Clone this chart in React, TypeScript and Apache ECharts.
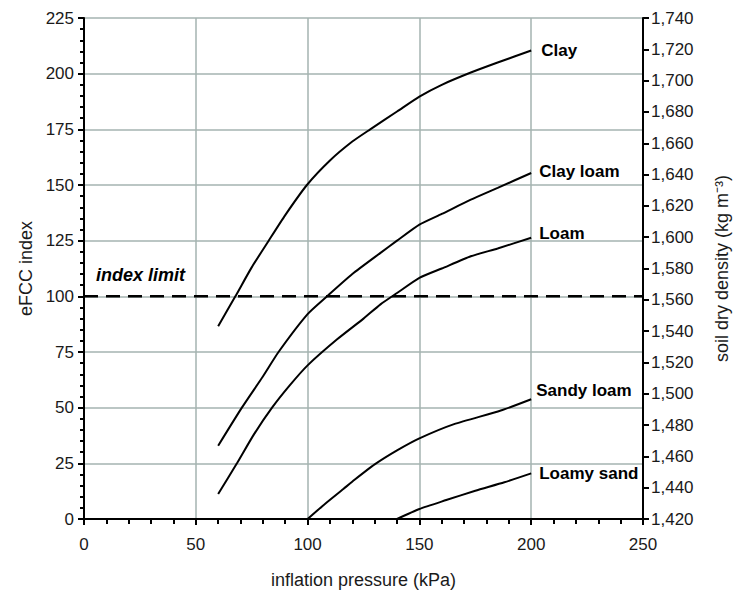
import React, { useEffect, useRef } from "react";
import * as echarts from "echarts";

// Inflation pressure (kPa) and eFCC index readings for each soil texture
const pressureClay = [60, 67.7, 75, 82.6, 90, 99.7, 110, 120, 128, 140, 150, 160, 173, 185, 200];
const efccClay = [86.6, 100, 113, 125, 136.5, 150, 161, 169.5, 175, 183, 189.7, 195, 200.5, 205, 210.4];

const pressureClayLoam = [60, 70.6, 80, 87, 100, 108.7, 120, 132.6, 140, 150, 160, 173, 185, 200];
const efccClayLoam = [32.9, 50, 64, 75, 92, 100, 110, 119.5, 125, 132.2, 137, 143.4, 148.7, 155.4];

const pressureLoam = [60, 68.4, 76, 84.1, 92, 100, 113.2, 125, 132.6, 140, 150, 160, 173, 185, 200];
const efccLoam = [11.2, 25, 38, 50, 60, 69, 80.7, 90, 96.4, 101.5, 108.3, 112.5, 118, 121.5, 126.3];

const pressureSandyLoam = [100, 108, 116, 121, 130, 140, 150, 165.5, 186.4, 200];
const efccSandyLoam = [0, 7, 13.5, 17.6, 24.5, 30.8, 36.2, 42.6, 48.7, 53.8];

const pressureLoamySand = [140, 150, 162, 175, 188, 200];
const efccLoamySand = [0, 4.5, 8.5, 12.7, 16.5, 20.5];

const seriesNames = ["Clay", "Clay loam", "Loam", "Sandy loam", "Loamy sand"];

const indexLimit = 100;
const indexLimitLabel = "index limit";

const xTicks = { min: 0, max: 250, interval: 50 };
const yLeftTicks = { min: 0, max: 225, interval: 25 };
const yRightTicks = { min: 1420, max: 1740, interval: 20 };

const FONT = "Liberation Sans, Arial, sans-serif";

const zip = (xs: number[], ys: number[]) => xs.map((x, i) => [x, ys[i]]);

export default function App() {
  const ref = useRef<HTMLDivElement>(null);

  useEffect(() => {
    if (!ref.current) return;
    const chart = echarts.init(ref.current, null, { renderer: "svg" });

    const curves = [
      { name: seriesNames[0], data: zip(pressureClay, efccClay), off: [0, 0], dist: 10 },
      { name: seriesNames[1], data: zip(pressureClayLoam, efccClayLoam), off: [0, -1], dist: 8 },
      { name: seriesNames[2], data: zip(pressureLoam, efccLoam), off: [0, -4], dist: 8 },
      { name: seriesNames[3], data: zip(pressureSandyLoam, efccSandyLoam), off: [0, -9], dist: 5 },
      { name: seriesNames[4], data: zip(pressureLoamySand, efccLoamySand), off: [0, 0], dist: 8 },
    ];

    const gridColor = "#a4b3b1";
    const labelColor = "#1a1a1a";

    chart.setOption({
      animation: false,
      backgroundColor: "#ffffff",
      textStyle: { fontFamily: FONT },
      grid: { left: 84, right: 96, top: 18, bottom: 73.5, containLabel: false },
      xAxis: {
        type: "value",
        min: xTicks.min,
        max: xTicks.max,
        interval: xTicks.interval,
        name: "inflation pressure (kPa)",
        nameLocation: "middle",
        nameGap: 52,
        nameTextStyle: { fontSize: 18, color: labelColor, fontFamily: FONT },
        axisLine: { show: true, onZero: false, lineStyle: { color: "#000", width: 2 } },
        axisTick: { show: true, length: 6, lineStyle: { color: "#000", width: 2 } },
        minorTick: { show: true, splitNumber: 5, length: 5, lineStyle: { color: "#000", width: 2 } },
        axisLabel: { fontSize: 17, color: labelColor, margin: 17, fontFamily: FONT },
        splitLine: { show: true, lineStyle: { color: gridColor, width: 1.5 } },
      },
      yAxis: [
        {
          type: "value",
          min: yLeftTicks.min,
          max: yLeftTicks.max,
          interval: yLeftTicks.interval,
          position: "left",
          name: "eFCC index",
          nameLocation: "middle",
          nameGap: 35,
          nameRotate: 90,
          nameTextStyle: { fontSize: 18, color: labelColor, fontFamily: FONT },
          axisLine: { show: true, onZero: false, lineStyle: { color: "#000", width: 2 } },
          axisTick: { show: true, length: 6, lineStyle: { color: "#000", width: 2 } },
          minorTick: { show: true, splitNumber: 5, length: 4, lineStyle: { color: "#000", width: 2 } },
          axisLabel: { fontSize: 17, color: labelColor, margin: 10, fontFamily: FONT },
          splitLine: { show: true, lineStyle: { color: gridColor, width: 1.5 } },
        },
        {
          type: "value",
          min: yRightTicks.min,
          max: yRightTicks.max,
          interval: yRightTicks.interval,
          position: "right",
          name: "soil dry density (kg m⁻³)",
          nameLocation: "middle",
          nameGap: 70,
          nameRotate: 90,
          nameTextStyle: { fontSize: 18, color: labelColor, fontFamily: FONT },
          axisLine: { show: true, onZero: false, lineStyle: { color: "#000", width: 2 } },
          axisTick: { show: true, length: 6, lineStyle: { color: "#000", width: 2 } },
          axisLabel: {
            fontSize: 17,
            color: labelColor,
            margin: 8,
            fontFamily: FONT,
            formatter: (v: number) => v.toLocaleString("en-US"),
          },
          splitLine: { show: false },
        },
      ],
      graphic: [
        {
          type: "text",
          left: 96,
          top: 266,
          style: {
            text: indexLimitLabel,
            font: `italic bold 18px ${FONT}`,
            fill: "#000",
          },
        },
      ],
      series: [
        {
          type: "line",
          name: "limit",
          data: [
            [xTicks.min, indexLimit],
            [xTicks.max, indexLimit],
          ],
          symbol: "none",
          silent: true,
          lineStyle: { color: "#000", width: 2.5, type: [14, 8] },
          z: 3,
        },
        ...curves.map((c) => ({
          type: "line",
          name: c.name,
          data: c.data,
          symbol: "none",
          smooth: 0.2,
          silent: true,
          lineStyle: { color: "#000", width: 2 },
          endLabel: {
            show: true,
            formatter: c.name,
            fontSize: 17,
            fontWeight: "bold",
            color: "#000",
            fontFamily: FONT,
            distance: c.dist,
            offset: c.off,
          },
          z: 4,
        })),
      ],
    });

    return () => chart.dispose();
  }, []);

  return (
    <div
      ref={ref}
      style={{ position: "fixed", left: 0, top: 0, width: 739, height: 594, background: "#fff" }}
    />
  );
}
